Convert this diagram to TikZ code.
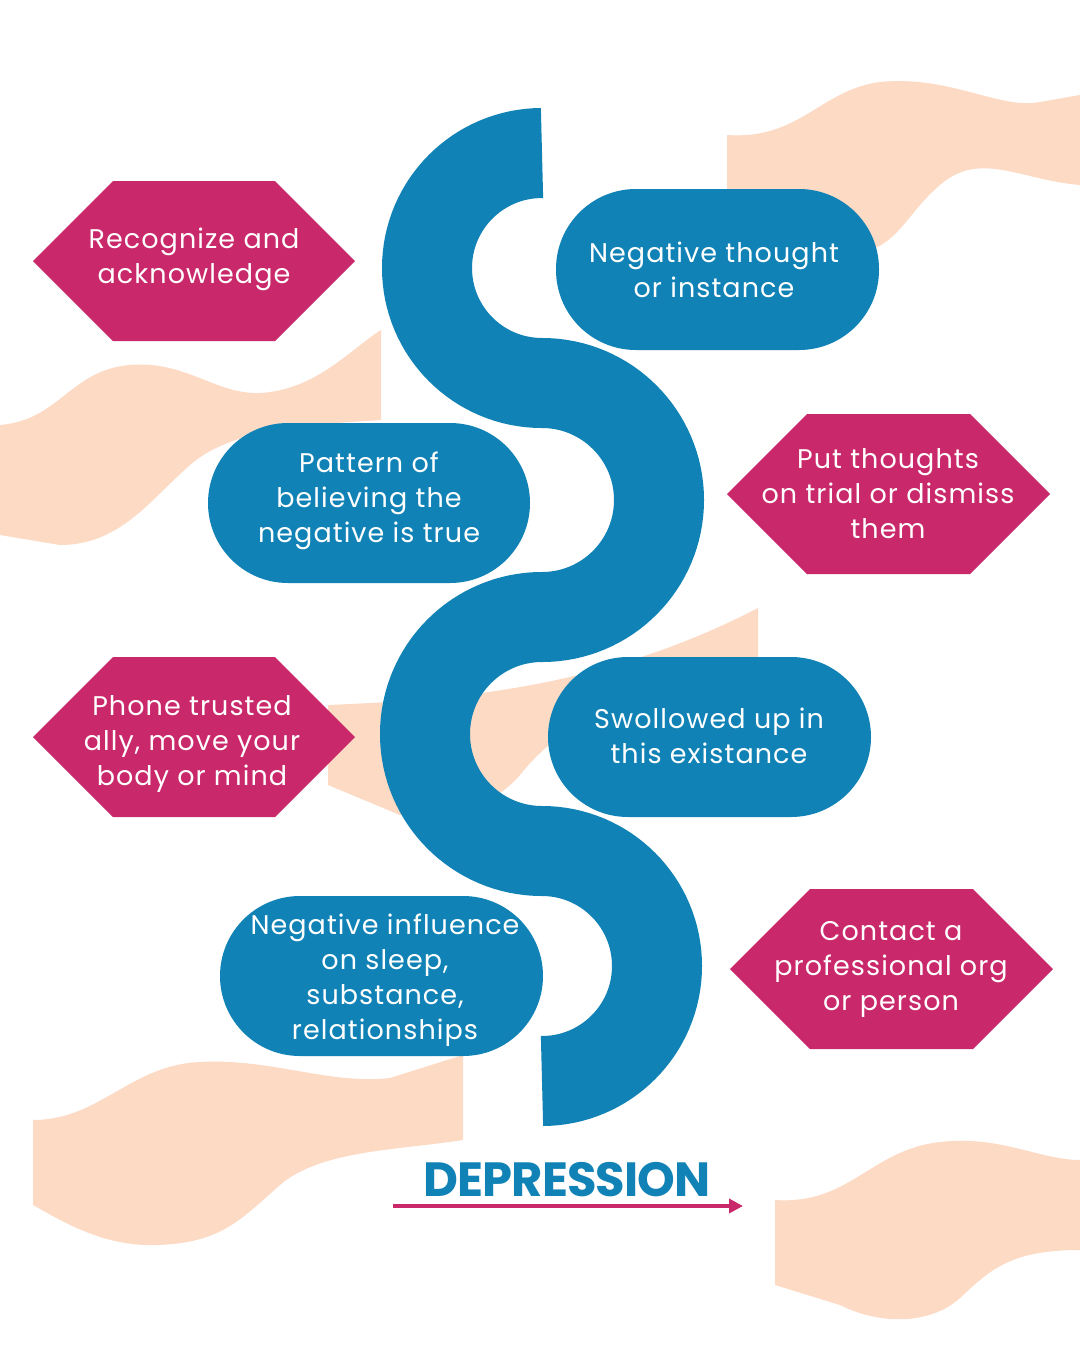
\documentclass[tikz,border=0pt]{standalone}
\usepackage{fontspec}
\setmainfont{Poppins}[LetterSpace=4]
\usetikzlibrary{arrows.meta}
\definecolor{peach}{HTML}{FDDAC4}
\definecolor{mag}{HTML}{C9286A}
\definecolor{blu}{HTML}{1082B5}
\definecolor{dblu}{HTML}{0B4F6E}
\tikzset{
  lbl/.style={text=white,align=center,font=\fontsize{13.5}{17.5}\selectfont},
  hexa/.style={fill=mag},
  pill/.style={fill=blu},
  blob/.style={fill=peach}
}
\begin{document}
\begin{tikzpicture}[x=0.5pt,y=-0.5pt]
\useasboundingbox (0,0) rectangle (1080,1350);
\fill[white] (0,0) rectangle (1080,1350);
% peach blobs
\fill[blob] (727,135) .. controls (800,140) and (820,90) .. (880,82) .. controls (950,75) and (1000,110) .. (1040,102) -- (1080,95) -- (1080,185) .. controls (1020,180) and (980,150) .. (940,185) .. controls (910,210) and (900,240) .. (870,250) -- (727,250) -- cycle;
\fill[blob] (0,425) .. controls (60,420) and (70,370) .. (130,365) .. controls (190,360) and (220,400) .. (270,392) .. controls (320,385) and (350,350) .. (381,330) -- (381,420) .. controls (300,425) and (230,430) .. (190,465) .. controls (150,500) and (120,545) .. (60,545) -- (0,535) -- cycle;
\fill[blob] (328,705) .. controls (450,700) and (600,690) .. (758,608) -- (758,660) .. controls (650,700) and (580,700) .. (520,775) .. controls (490,810) and (440,820) .. (400,815) -- (328,785) -- cycle;
\fill[blob] (33,1120) .. controls (100,1120) and (130,1065) .. (200,1062) .. controls (270,1058) and (330,1085) .. (390,1078) -- (463,1055) -- (463,1140) .. controls (400,1150) and (320,1150) .. (280,1185) .. controls (240,1220) and (220,1245) .. (150,1245) .. controls (100,1245) and (60,1220) .. (33,1205) -- cycle;
\fill[blob] (775,1200) .. controls (850,1205) and (870,1150) .. (940,1142) .. controls (1000,1135) and (1040,1160) .. (1080,1160) -- (1080,1250) .. controls (1010,1250) and (990,1270) .. (960,1298) .. controls (930,1325) and (880,1325) .. (840,1305) -- (775,1285) -- cycle;
% serpentine
\coordinate (s0) at (542,153);
\draw[blu,line width=45pt] (s0) arc[start angle=-90,end angle=-270,radius=115]
  arc[start angle=-90,end angle=90,radius=117]
  arc[start angle=-90,end angle=-270,radius=117]
  arc[start angle=-90,end angle=90,radius=115];
% hexagons
\fill[hexa] (33,261)--(113,181)--(275,181)--(355,261)--(275,341)--(113,341)--cycle;
\node[lbl] (h1) at (194,259) {Recognize and\\acknowledge};
\fill[hexa] (727,494)--(807,414)--(970,414)--(1050,494)--(970,574)--(807,574)--cycle;
\node[lbl] (h2) at (888,494) {Put thoughts\\on trial or dismiss\\them};
\fill[hexa] (33,737)--(113,657)--(275,657)--(355,737)--(275,817)--(113,817)--cycle;
\node[lbl] (h3) at (192,744) {Phone trusted\\ally, move your\\body or mind};
\fill[hexa] (730,969)--(810,889)--(973,889)--(1053,969)--(973,1049)--(810,1049)--cycle;
\node[lbl] (h4) at (891,969) {Contact a\\professional org\\or person};
% pills
\fill[pill,rounded corners=40pt] (556,189) rectangle (879,350);
\node[lbl] (p1) at (714,270) {Negative thought\\or instance};
\fill[pill,rounded corners=40pt] (208,423) rectangle (530,583);
\node[lbl] (p2) at (369,501) {Pattern of\\believing the\\negative is true};
\fill[pill,rounded corners=40pt] (548,657) rectangle (871,817);
\node[lbl] (p3) at (709,736) {Swollowed up in\\this existance};
\fill[pill,rounded corners=40pt] (220,896) rectangle (543,1056);
\node[lbl] (p4) at (385,980) {Negative influence\\on sleep,\\substance,\\relationships};
% title
\node[font=\fontsize{24}{24}\selectfont\bfseries,text=blu] (t) at (567,1180) {\addfontfeatures{LetterSpace=-2}DEPRESSION};
\coordinate (a1) at (393,1206);
\coordinate (a2) at (743,1206);
\draw[mag,line width=2pt,-{Triangle[length=7pt,width=7pt]}] (a1) -- (a2);
\end{tikzpicture}
\end{document}
